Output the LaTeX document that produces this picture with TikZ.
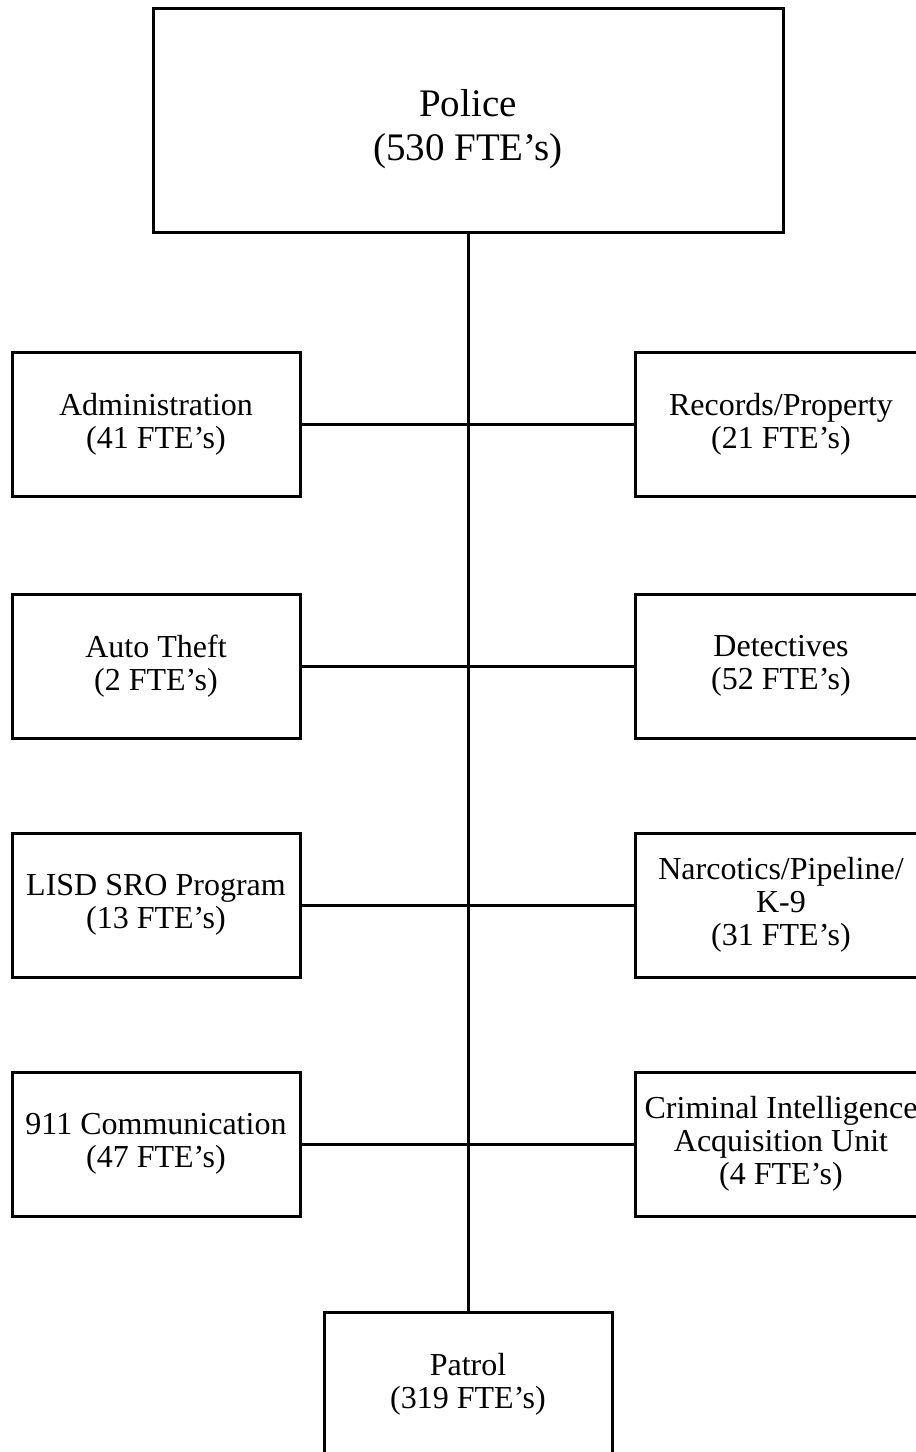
\documentclass[tikz,border=0pt]{standalone}
\usepackage{fontspec}
\setmainfont{Liberation Serif}
\usepackage{tikz}
\usetikzlibrary{positioning}
\tikzset{
  unit/.style={draw,line width=1.5pt,align=center,inner sep=0pt,minimum width=144pt,minimum height=72pt,font=\fontsize{16pt}{16.5pt}\selectfont},
  chief/.style={draw,line width=1.5pt,align=center,inner sep=0pt,minimum width=315pt,minimum height=112pt,font=\fontsize{19.5pt}{22pt}\selectfont},
  link/.style={line width=1.5pt},
}
\begin{document}
\begin{tikzpicture}[x=0.5pt,y=-0.5pt]
  \useasboundingbox (0,0) rectangle (916,1452);
  \clip (0,0) rectangle (916,1452);
  % head of department
  \node[chief] (police) at (468,120) {\rule{0pt}{22.5pt}Police\\(530 FTE's)};
  % divisions, left and right of the trunk
  \node[unit] (admin) at (156,424) {Administration\\(41 FTE's)};
  \node[unit,minimum width=146pt] (records) at (781,424) {Records/Property\\(21 FTE's)};
  \node[unit] (auto) at (156,666) {Auto Theft\\(2 FTE's)};
  \node[unit,minimum width=146pt] (detect) at (781,666) {Detectives\\(52 FTE's)};
  \node[unit] (lisd) at (156,905) {LISD SRO Program\\(13 FTE's)};
  \node[unit,minimum width=146pt] (narc) at (781,905) {Narcotics/Pipeline/\\K-9\\(31 FTE's)};
  \node[unit] (comm) at (156,1144) {911 Communication\\(47 FTE's)};
  \node[unit,minimum width=146pt] (crim) at (781,1144) {Criminal Intelligence\\Acquisition Unit\\(4 FTE's)};
  \node[unit] (patrol) at (468,1384) {Patrol\\(319 FTE's)};
  % connectors
  \draw[link] (police) -- (patrol);
  \foreach \l/\r in {admin/records,auto/detect,lisd/narc,comm/crim}
    \draw[link] (\l) -- (\r);
\end{tikzpicture}
\end{document}
